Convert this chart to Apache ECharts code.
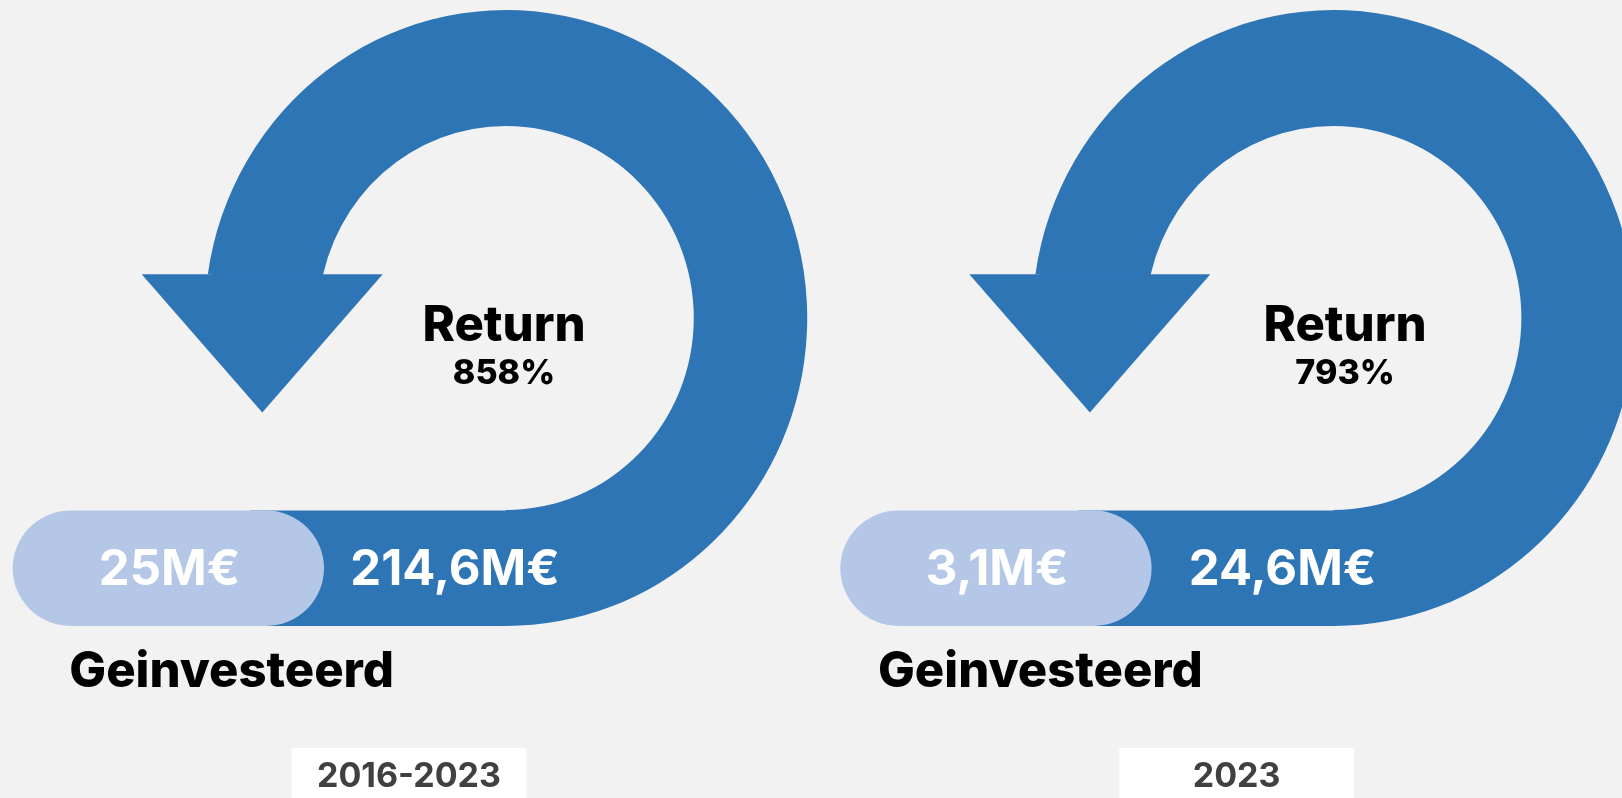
<!DOCTYPE html>
<html>
<head>
<meta charset="utf-8">
<script src="https://cdn.jsdelivr.net/npm/echarts@6/dist/echarts.min.js"></script>
<style>
html,body{margin:0;padding:0;background:#f2f2f2;}
#chart{width:1622px;height:798px;}
</style>
</head>
<body>
<div id="chart"></div>
<script>
// ---- data ----
const periods = ['2016-2023', '2023'];
const investedM = [25, 3.1];
const returnedM = [214.6, 24.6];
const returnPct = [858, 793];
const investedLabel = 'Geinvesteerd';
const returnLabel = 'Return';

// ---- layout (pixels) ----
const panelOffset = [0, 827.6];
const returnTextX = [504, 1345];
const investedTextX = [69.3, 878];

const DARK = '#2e75b6', LIGHT = '#b4c7e7', BG = '#f2f2f2';
const FONT = 'Inter, "Open Sans", "Liberation Sans", sans-serif';

function fmtM(v) { return String(v).replace('.', ',') + 'M€'; }

const chart = echarts.init(document.getElementById('chart'), null, {renderer: 'canvas'});
const elements = [];
const cy = 318, r0 = 192, r1 = 308, sx = 0.978;
const delta = Math.asin(44 / r1);

periods.forEach((p, i) => {
  const o = panelOffset[i];
  const cx = 506 + o;
  // ring
  elements.push({
    type: 'sector', z: 1,
    originX: cx, originY: cy, scaleX: sx,
    shape: {cx: cx, cy: cy, r0: r0, r: r1, startAngle: Math.PI + delta, endAngle: 2.5 * Math.PI, clockwise: true},
    style: {fill: DARK}
  });
  // arrow head
  elements.push({
    type: 'polygon', z: 2,
    shape: {points: [[141.7 + o, 274.3], [382.7 + o, 274.3], [262.3 + o, 412.5]]},
    style: {fill: DARK}
  });
  // dark bar
  elements.push({
    type: 'rect', z: 2,
    shape: {x: 250 + o, y: 510.5, width: 257, height: 115.5},
    style: {fill: DARK}
  });
  // light pill
  elements.push({
    type: 'rect', z: 3,
    shape: {x: 12.7 + o, y: 510.5, width: 311.3, height: 115.5, r: 57.75},
    style: {fill: LIGHT}
  });
  // invested value
  elements.push({
    type: 'text', z: 4,
    style: {text: fmtM(investedM[i]), x: 169.5 + o, y: 570.5, align: 'center', verticalAlign: 'middle',
      fill: '#ffffff', font: '700 49px ' + FONT}
  });
  // returned value
  elements.push({
    type: 'text', z: 4,
    style: {text: fmtM(returnedM[i]), x: 455 + o, y: 570.5, align: 'center', verticalAlign: 'middle',
      fill: '#ffffff', font: '700 49px ' + FONT}
  });
  // Geinvesteerd
  elements.push({
    type: 'text', z: 4,
    style: {text: investedLabel, x: investedTextX[i], y: 672, align: 'left', verticalAlign: 'middle',
      fill: '#000000', font: '800 49px ' + FONT}
  });
  // Return
  elements.push({
    type: 'text', z: 4,
    style: {text: returnLabel, x: returnTextX[i], y: 326, align: 'center', verticalAlign: 'middle',
      fill: '#000000', font: '800 49px ' + FONT}
  });
  elements.push({
    type: 'text', z: 4,
    style: {text: returnPct[i] + '%', x: returnTextX[i], y: 373.5, align: 'center', verticalAlign: 'middle',
      fill: '#000000', font: '800 34px ' + FONT}
  });
  // period box
  elements.push({
    type: 'rect', z: 2,
    shape: {x: 291.7 + o, y: 748, width: 234.7, height: 60},
    style: {fill: '#ffffff'}
  });
  elements.push({
    type: 'text', z: 4,
    style: {text: p, x: 409 + o, y: 777, align: 'center', verticalAlign: 'middle',
      fill: '#404040', font: '700 34px ' + FONT}
  });
});

chart.setOption({
  backgroundColor: BG,
  animation: false,
  graphic: {elements: elements}
});
</script>
</body>
</html>
